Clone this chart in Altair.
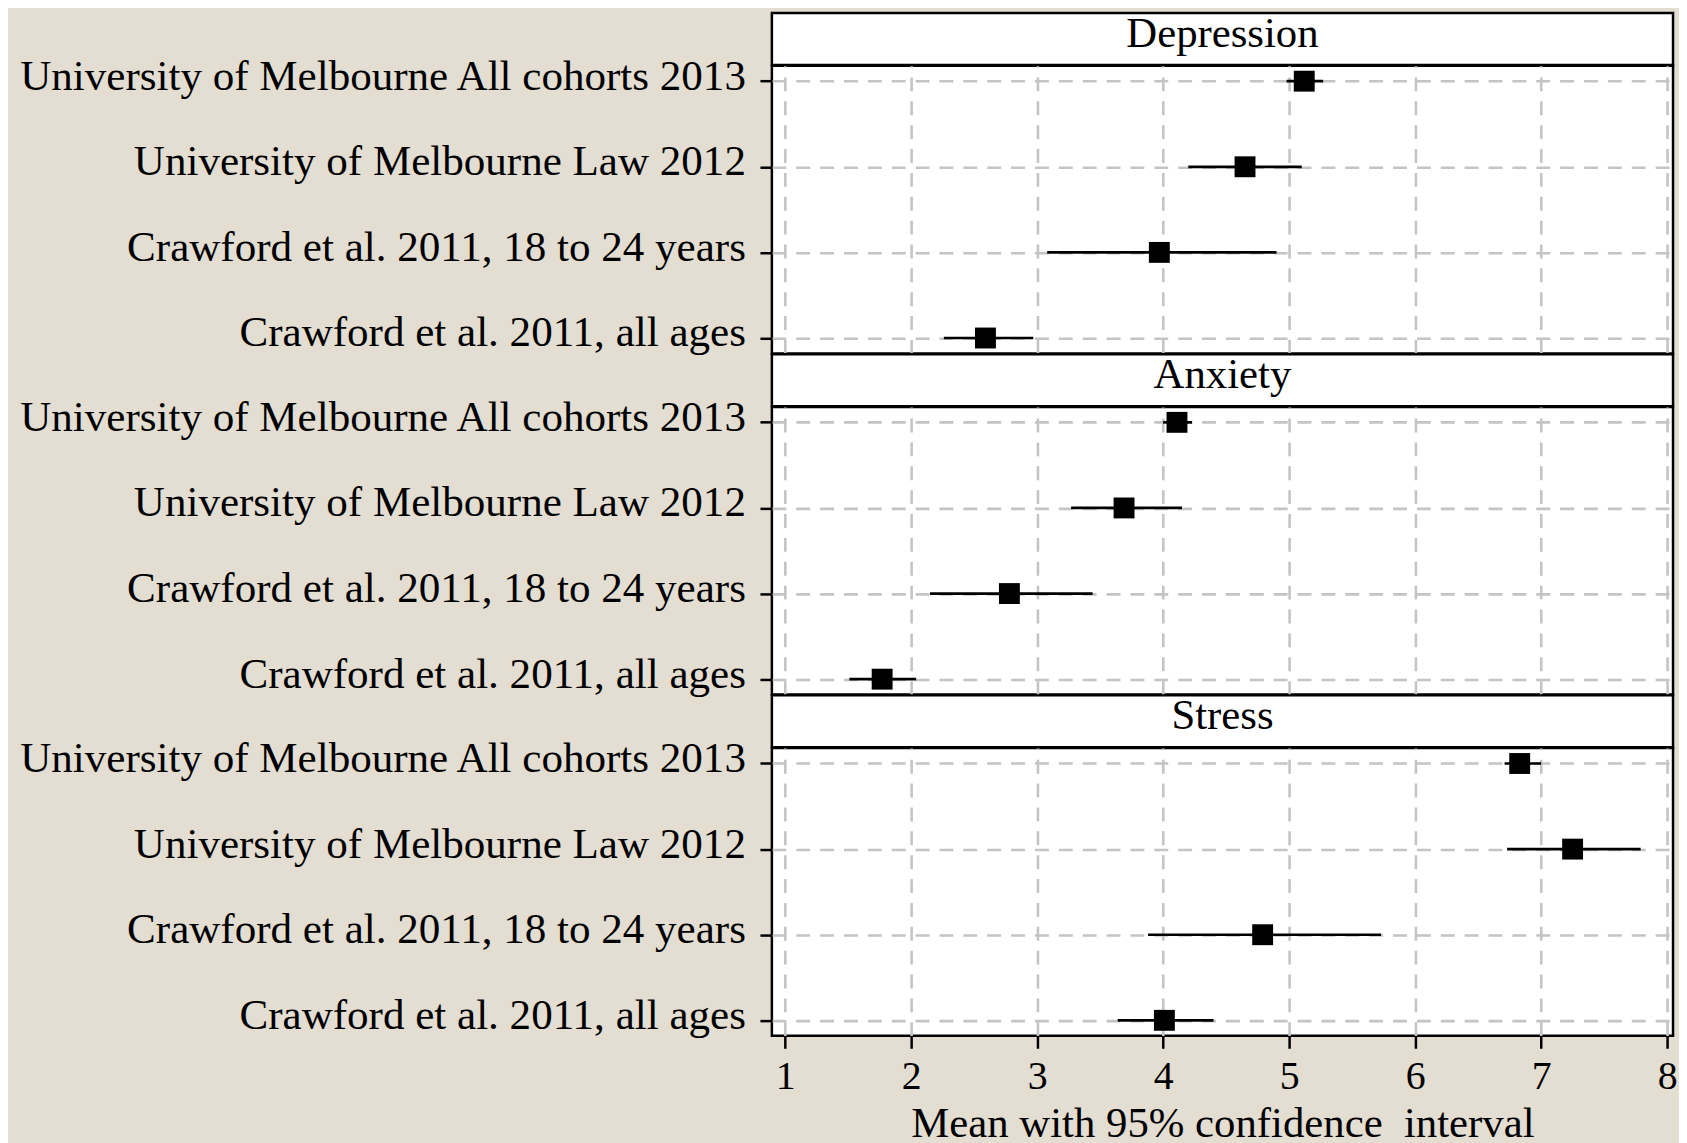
import altair as alt
import pandas as pd

# ---- data ----
measures = ["Depression", "Anxiety", "Stress"]
studies = [
    "University of Melbourne All cohorts 2013",
    "University of Melbourne Law 2012",
    "Crawford et al. 2011, 18 to 24 years",
    "Crawford et al. 2011, all ages",
]
dep_mean = [5.12, 4.65, 3.97, 2.59]
dep_lo = [4.98, 4.20, 3.08, 2.26]
dep_hi = [5.27, 5.10, 4.90, 2.97]

anx_mean = [4.11, 3.69, 2.78, 1.77]
anx_lo = [4.00, 3.27, 2.15, 1.51]
anx_hi = [4.23, 4.15, 3.44, 2.04]

str_mean = [6.83, 7.25, 4.79, 4.01]
str_lo = [6.71, 6.73, 3.88, 3.64]
str_hi = [7.00, 7.79, 5.73, 4.40]

x_ticks = [1, 2, 3, 4, 5, 6, 7, 8]
x_title = "Mean with 95% confidence\u00a0 interval"

FONT = "Liberation Serif"
FS = 43
W = 906
HEADER_H = 52.2
PANEL_H = 289.2
GRID = dict(grid=True, gridDash=[14, 10], gridColor="#c4c4c4", gridWidth=2.6)


def header(name):
    return (
        alt.Chart(pd.DataFrame({"m": [name]}))
        .mark_text(font=FONT, fontSize=FS, baseline="alphabetic", align="center", color="black")
        .encode(x=alt.value(W / 2), y=alt.value(34), text="m:N")
        .properties(width=W, height=HEADER_H)
    )


def panel(means, los, his, bottom):
    df = pd.DataFrame({"study": studies, "mean": means, "lo": los, "hi": his})
    if bottom:
        xaxis = alt.Axis(
            values=x_ticks, title=x_title, domain=False,
            labelFont=FONT, labelFontSize=40, labelColor="black", labelPadding=8.5,
            tickSize=12.6, tickWidth=2.5, tickColor="black",
            titleFont=FONT, titleFontSize=FS, titleFontWeight="normal", titleColor="black",
            titlePadding=6, **GRID,
        )
    else:
        xaxis = alt.Axis(values=x_ticks, title=None, domain=False, labels=False, ticks=False, **GRID)
    yaxis = alt.Axis(
        title=None, domain=False,
        labelFont=FONT, labelFontSize=43.3, labelColor="black", labelLimit=1200,
        labelPadding=14.6, labelOffset=-5, minExtent=755, maxExtent=755,
        tickSize=12, tickWidth=2.5, tickColor="black", **GRID,
    )
    xs = alt.Scale(domain=[0.895, 8.047], nice=False, zero=False)
    ys = alt.Scale(type="point", padding=0.18, domain=studies)
    rules = alt.Chart(df).mark_rule(color="black", strokeWidth=2.7).encode(
        x=alt.X("lo:Q", scale=xs, axis=xaxis),
        x2="hi:Q",
        y=alt.Y("study:N", scale=ys, axis=yaxis, sort=studies),
    )
    pts = alt.Chart(df).mark_square(size=441, color="black", opacity=1, filled=True).encode(
        x=alt.X("mean:Q", scale=xs, axis=xaxis),
        y=alt.Y("study:N", scale=ys, axis=yaxis, sort=studies),
    )
    return alt.layer(rules, pts).properties(width=W, height=PANEL_H)


charts = [
    header(measures[0]), panel(dep_mean, dep_lo, dep_hi, False),
    header(measures[1]), panel(anx_mean, anx_lo, anx_hi, False),
    header(measures[2]), panel(str_mean, str_lo, str_hi, True),
]

chart = (
    alt.vconcat(*charts, spacing=0, bounds="flush")
    .properties(background="#e3ddd2", padding={"left": 7, "top": 0, "right": 0, "bottom": 0})
    .configure_view(fill="white", stroke="black", strokeWidth=2.5)
)

chart.save("out.html", embed_options={"renderer": "svg", "actions": False})
